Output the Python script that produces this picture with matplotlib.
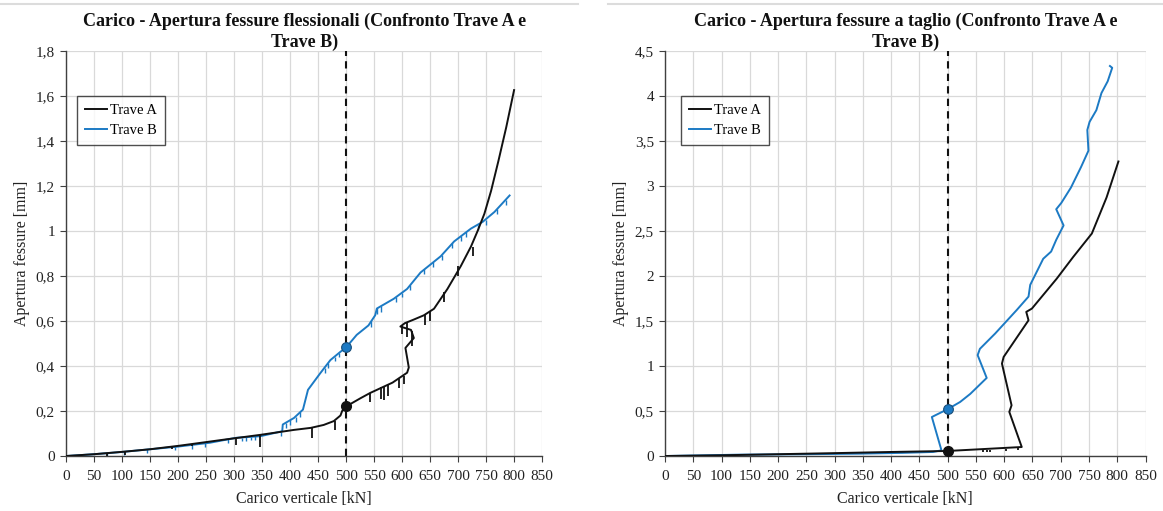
import matplotlib
matplotlib.use("Agg")
import matplotlib.pyplot as plt
from matplotlib.lines import Line2D
from matplotlib.ticker import FuncFormatter, MultipleLocator

# ---------------- Dati: fessure flessionali (grafico sinistro) ----------------
fless_a_x = [0, 50, 107, 150, 200, 227, 280, 347, 407, 437, 460, 478, 490, 493, 500,
             526, 543, 583, 609, 612, 606, 621, 616, 597, 605, 620, 639, 657, 681,
             705, 723, 735, 747, 759, 772, 786, 800]
fless_a_y = [0, 0.008, 0.02, 0.03, 0.045, 0.054, 0.072, 0.094, 0.116, 0.125, 0.138,
             0.155, 0.18, 0.2, 0.22, 0.257, 0.28, 0.326, 0.37, 0.393, 0.48, 0.524,
             0.56, 0.575, 0.59, 0.605, 0.625, 0.654, 0.742, 0.844, 0.93, 1.0, 1.076,
             1.178, 1.31, 1.46, 1.625]
fless_b_x = [0, 50, 100, 150, 197, 257, 304, 347, 386, 387, 407, 423, 432, 454, 472,
             490, 500, 519, 540, 552, 555, 585, 609, 633, 669, 693, 723, 744, 765, 792]
fless_b_y = [0, 0.008, 0.018, 0.03, 0.041, 0.059, 0.081, 0.088, 0.11, 0.14, 0.169,
             0.206, 0.294, 0.368, 0.426, 0.463, 0.482, 0.538, 0.58, 0.625, 0.655,
             0.698, 0.742, 0.815, 0.887, 0.953, 1.01, 1.04, 1.084, 1.157]

# picchi verso il basso (scarichi) - Trave A
fless_a_pk_x = [73, 105, 190, 225, 304, 346, 439, 480, 543, 563, 568, 574, 594, 603,
                599, 608, 617, 641, 650, 674, 700, 727]
fless_a_pk_top = [0.01, 0.02, 0.045, 0.054, 0.076, 0.094, 0.126, 0.156, 0.28, 0.305,
                  0.311, 0.318, 0.343, 0.355, 0.582, 0.595, 0.556, 0.628, 0.642, 0.728,
                  0.844, 0.93]
fless_a_pk_bot = [0.0, 0.005, 0.033, 0.043, 0.05, 0.042, 0.08, 0.115, 0.24, 0.255,
                  0.25, 0.265, 0.3, 0.32, 0.54, 0.53, 0.49, 0.58, 0.6, 0.685, 0.8, 0.89]
# picchi - Trave B
fless_b_pk_x = [74, 104, 144, 194, 224, 248, 290, 314, 322, 330, 338, 383, 392, 400,
                410, 418, 462, 468, 480, 488, 545, 556, 562, 590, 600, 615, 640, 655,
                672, 690, 705, 715, 735, 750, 770, 785]
fless_b_pk_top = [0.012, 0.019, 0.029, 0.04, 0.049, 0.056, 0.075, 0.082, 0.084, 0.085,
                  0.087, 0.108, 0.148, 0.16, 0.175, 0.194, 0.393, 0.414, 0.441, 0.459,
                  0.599, 0.656, 0.664, 0.705, 0.726, 0.76, 0.83, 0.86, 0.893, 0.945,
                  0.975, 0.995, 1.027, 1.05, 1.095, 1.138]
fless_b_pk_bot = [0.0, 0.006, 0.014, 0.028, 0.032, 0.042, 0.06, 0.066, 0.068, 0.069,
                  0.071, 0.09, 0.125, 0.138, 0.152, 0.172, 0.368, 0.39, 0.42, 0.438,
                  0.575, 0.632, 0.64, 0.685, 0.705, 0.738, 0.808, 0.838, 0.87, 0.922,
                  0.953, 0.973, 1.005, 1.028, 1.073, 1.116]

# ---------------- Dati: fessure a taglio (grafico destro) ----------------
taglio_a_x = [0, 100, 200, 300, 400, 500, 631, 609, 613, 596, 599, 643, 639, 649,
              693, 722, 755, 781, 802]
taglio_a_y = [0, 0.008, 0.02, 0.032, 0.045, 0.056, 0.1, 0.49, 0.563, 1.026, 1.1,
              1.507, 1.6, 1.637, 1.97, 2.21, 2.47, 2.87, 3.27]
taglio_b_x = [0, 130, 250, 343, 420, 474, 489, 472, 478, 500, 522, 540, 569, 553,
              557, 584, 622, 643, 646, 669, 683, 692, 705, 692, 701, 718, 736, 749,
              747, 751, 763, 772, 783, 791, 787]
taglio_b_y = [0, 0.015, 0.02, 0.026, 0.035, 0.045, 0.063, 0.433, 0.452, 0.52, 0.6,
              0.69, 0.867, 1.12, 1.19, 1.36, 1.62, 1.77, 1.9, 2.19, 2.27, 2.4, 2.56,
              2.74, 2.81, 2.98, 3.21, 3.39, 3.62, 3.71, 3.84, 4.03, 4.16, 4.31, 4.33]
taglio_a_pk_x = [563, 570, 575, 604, 625]
taglio_a_pk_top = [0.07, 0.07, 0.072, 0.08, 0.09]
taglio_a_pk_bot = [0.04, 0.045, 0.045, 0.055, 0.065]

# punti a 500 kN
carico_rif = 500
fless_punti = [0.22, 0.482]    # Trave A, Trave B
taglio_punti = [0.056, 0.52]

titoli = ["Carico - Apertura fessure flessionali (Confronto Trave A e\nTrave B)",
          "Carico - Apertura fessure a taglio (Confronto Trave A e\nTrave B)"]

NERO = "#111111"
BLU = "#1c7ac4"

plt.rcParams['font.family'] = ['Liberation Serif', 'DejaVu Serif']


def virgola(v, pos):
    return f"{v:g}".replace('.', ',')


fig = plt.figure(figsize=(11.63, 5.11), dpi=100)
ax1 = fig.add_axes([0.0568, 0.1076, 0.4093, 0.7932])
ax2 = fig.add_axes([0.5718, 0.1076, 0.4132, 0.7932])

# linee grigie in alto (cornice del grafico)
fig.add_artist(Line2D([0.0, 0.497], [0.993, 0.993], color='#dcdcdc', lw=1.5))
fig.add_artist(Line2D([0.523, 1.0], [0.993, 0.993], color='#dcdcdc', lw=1.5))

config = [
    (ax1, fless_a_x, fless_a_y, fless_b_x, fless_b_y, fless_a_pk_x, fless_a_pk_top,
     fless_a_pk_bot, fless_punti, 1.8, 0.2, titoli[0]),
    (ax2, taglio_a_x, taglio_a_y, taglio_b_x, taglio_b_y, taglio_a_pk_x,
     taglio_a_pk_top, taglio_a_pk_bot, taglio_punti, 4.5, 0.5, titoli[1]),
]

for ax, ax_x, ax_y, bx, by, pkx, pkt, pkb, punti, ymax, ystep, titolo in config:
    ax.plot(bx, by, color=BLU, lw=1.4, label='Trave B', zorder=3)
    ax.plot(ax_x, ax_y, color=NERO, lw=1.4, label='Trave A', zorder=4)
    ax.vlines(pkx, pkb, pkt, color=NERO, lw=1.3, zorder=4)
    if ax is ax1:
        ax.vlines(fless_b_pk_x, fless_b_pk_bot, fless_b_pk_top, color=BLU, lw=1.0, zorder=3)

    ax.axvline(carico_rif, color=NERO, ls=(0, (3.5, 2.5)), lw=1.5, zorder=2)
    ax.plot([carico_rif], [punti[0]], 'o', color=NERO, ms=7, zorder=6)
    ax.plot([carico_rif], [punti[1]], 'o', color=BLU, mec='#1a4f7a', mew=0.8, ms=7, zorder=6)

    ax.set_xlim(0, 850)
    ax.set_ylim(0, ymax)
    ax.xaxis.set_major_locator(MultipleLocator(50))
    ax.yaxis.set_major_locator(MultipleLocator(ystep))
    ax.yaxis.set_major_formatter(FuncFormatter(virgola))
    ax.grid(True, color='#d9d9d9', lw=0.9, zorder=0)
    ax.set_axisbelow(True)
    for s in ['top', 'right']:
        ax.spines[s].set_visible(False)
    for s in ['left', 'bottom']:
        ax.spines[s].set_color('#404040')
        ax.spines[s].set_linewidth(1.0)
    ax.tick_params(axis='x', labelsize=11, length=4, color='#404040',
                   labelcolor='#222222', pad=6)
    ax.tick_params(axis='y', labelsize=11, length=4, color='#404040',
                   labelcolor='#222222', pad=4)

    ax.set_xlabel("Carico verticale [kN]", fontsize=11.5, color='#222222', labelpad=6)
    ax.set_ylabel("Apertura fessure [mm]", fontsize=11.5, color='#222222', labelpad=4)
    ax.set_title(titolo, fontsize=13, fontweight='bold', color='#111111',
                 pad=-2, linespacing=1.25)

    h, l = ax.get_legend_handles_labels()
    ax.legend(h[::-1], l[::-1], loc='upper left',
              bbox_to_anchor=(0.023 if ax is ax1 else 0.033, 0.888),
              borderaxespad=0, frameon=True, fancybox=False, edgecolor='#222222',
              fontsize=10.5, handlelength=1.5, handletextpad=0.2, labelspacing=0.45,
              borderpad=0.55).get_frame().set_linewidth(1.0)

fig.savefig("out.png", dpi=100)
